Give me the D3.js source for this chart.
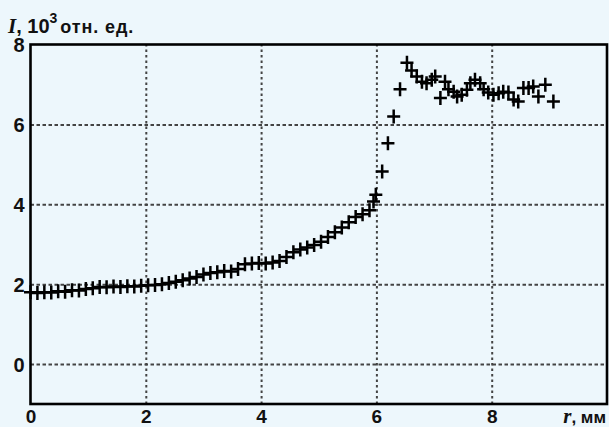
<!DOCTYPE html>
<html>
<head>
<meta charset="utf-8">
<script src="https://cdn.jsdelivr.net/npm/d3@7"></script>
<style>
  html, body { margin: 0; padding: 0; background: #edf7fc; }
  svg { display: block; }
</style>
</head>
<body>
<svg id="chart" width="609" height="427"></svg>
<script>
// ---- data ----
const rValues = [
  0.00, 0.12, 0.24, 0.36, 0.48, 0.60, 0.72, 0.84, 0.96, 1.08,
  1.20, 1.32, 1.44, 1.56, 1.68, 1.80, 1.92, 2.04, 2.16, 2.28,
  2.40, 2.52, 2.64, 2.76, 2.88, 3.00, 3.12, 3.24, 3.36, 3.48,
  3.60, 3.72, 3.84, 3.96, 4.08, 4.20, 4.32, 4.44, 4.56, 4.68,
  4.80, 4.92, 5.04, 5.16, 5.28, 5.40, 5.52, 5.64, 5.76, 5.88,
  5.95, 5.99, 6.10, 6.20, 6.30, 6.41, 6.53, 6.61, 6.70, 6.79,
  6.87, 6.96, 7.02, 7.11, 7.19, 7.25, 7.34, 7.40, 7.48, 7.57,
  7.63, 7.71, 7.80, 7.86, 7.94, 8.03, 8.12, 8.20, 8.29, 8.38,
  8.46, 8.55, 8.64, 8.72, 8.81, 8.93, 9.07
];
const intensityValues = [
  1.80, 1.78, 1.80, 1.79, 1.82, 1.81, 1.85, 1.84, 1.88, 1.90,
  1.93, 1.92, 1.94, 1.93, 1.95, 1.94, 1.96, 1.97, 1.98, 2.00,
  2.03, 2.06, 2.10, 2.14, 2.18, 2.24, 2.28, 2.30, 2.33, 2.32,
  2.38, 2.50, 2.52, 2.53, 2.52, 2.54, 2.58, 2.68, 2.80, 2.87,
  2.92, 2.98, 3.06, 3.18, 3.30, 3.42, 3.55, 3.68, 3.75, 3.85,
  4.07, 4.24, 4.82, 5.53, 6.20, 6.88, 7.54, 7.35, 7.20, 7.07,
  7.03, 7.12, 7.20, 6.66, 7.07, 6.88, 6.82, 6.70, 6.74, 6.87,
  7.03, 7.12, 7.03, 6.88, 6.80, 6.74, 6.78, 6.82, 6.80, 6.62,
  6.57, 6.91, 6.91, 6.95, 6.70, 6.99, 6.57
];
const xTicks = [0, 2, 4, 6, 8];
const yTicks = [0, 2, 4, 6, 8];
const xGrid = [2, 4, 6, 8];
const yGrid = [0, 2, 4, 6];
const xDomain = [0, 10];
const yDomain = [-1, 8];

// ---- layout ----
const padL = 30.5, padR = 607, padT = 44.5, padB = 404;
const svg = d3.select("#chart");
svg.append("rect").attr("width", 609).attr("height", 427).attr("fill", "#edf7fc");

const x = d3.scaleLinear().domain(xDomain).range([padL, padR]);
const y = d3.scaleLinear().domain(yDomain).range([padB, padT]);

// grid
const gridColor = "#444";
svg.append("g")
  .attr("transform", `translate(0,${padB})`)
  .call(d3.axisBottom(x).tickValues(xGrid).tickSize(-(padB - padT)).tickFormat(""))
  .call(g => g.select(".domain").remove())
  .call(g => g.selectAll("line").attr("stroke", gridColor).attr("stroke-width", 2).attr("stroke-dasharray", "2.5,3"));
svg.append("g")
  .attr("transform", `translate(${padL},0)`)
  .call(d3.axisLeft(y).tickValues(yGrid).tickSize(-(padR - padL)).tickFormat(""))
  .call(g => g.select(".domain").remove())
  .call(g => g.selectAll("line").attr("stroke", gridColor).attr("stroke-width", 2).attr("stroke-dasharray", "3.5,2.5"));

// frame
svg.append("rect")
  .attr("x", padL).attr("y", padT)
  .attr("width", padR - padL).attr("height", padB - padT)
  .attr("fill", "none").attr("stroke", "#000").attr("stroke-width", 2.6);

// tick labels
const tickFont = "'Liberation Sans', Arial, sans-serif";
svg.append("g")
  .attr("transform", `translate(${padL - 6},0)`)
  .call(d3.axisLeft(y).tickValues(yTicks).tickSize(0).tickPadding(0).tickFormat(d3.format("d")))
  .call(g => g.select(".domain").remove())
  .call(g => g.selectAll("text")
    .attr("font-family", tickFont).attr("font-size", 20).attr("font-weight", "bold")
    .attr("fill", "#111").attr("dy", "0.36em"));
svg.append("g")
  .attr("transform", `translate(0,${padB + 19})`)
  .call(d3.axisBottom(x).tickValues(xTicks).tickSize(0).tickPadding(0).tickFormat(d3.format("d")))
  .call(g => g.select(".domain").remove())
  .call(g => g.selectAll("text")
    .attr("font-family", tickFont).attr("font-size", 19).attr("font-weight", "bold")
    .attr("fill", "#111").attr("dy", "0"));

// axis titles
const yTitle = svg.append("text").attr("x", 8).attr("y", 33).attr("fill", "#111");
yTitle.append("tspan").attr("font-family", "'Liberation Serif', 'DejaVu Serif', serif")
  .attr("font-style", "italic").attr("font-weight", "bold").attr("font-size", 21).text("I");
yTitle.append("tspan").attr("font-family", tickFont).attr("font-weight", "bold").attr("font-size", 20).text(", 10");
yTitle.append("tspan").attr("font-family", tickFont).attr("font-weight", "bold").attr("font-size", 14)
  .attr("dy", -10).text("3");
yTitle.append("tspan").attr("font-family", tickFont).attr("font-weight", "bold").attr("font-size", 18)
  .attr("dy", 10).attr("dx", 3).attr("letter-spacing", 0.9).text("отн. ед.");

const xTitle = svg.append("text").attr("x", 606).attr("y", 423).attr("text-anchor", "end").attr("fill", "#111");
xTitle.append("tspan").attr("font-family", "'Liberation Serif', 'DejaVu Serif', serif")
  .attr("font-style", "italic").attr("font-weight", "bold").attr("font-size", 21).text("r");
xTitle.append("tspan").attr("font-family", tickFont).attr("font-weight", "bold").attr("font-size", 17).text(", мм");

// markers (+)
const data = rValues.map((r, i) => ({ r, v: intensityValues[i] }));
const armX = 6.5, armY = 7;
const marks = svg.append("g").attr("stroke", "#000").attr("stroke-width", 2.5).attr("fill", "none");
marks.selectAll("path").data(data).enter().append("path")
  .attr("d", d => {
    const cx = x(d.r), cy = y(d.v);
    return `M${cx - armX},${cy}H${cx + armX}M${cx},${cy - armY}V${cy + armY}`;
  });
</script>
</body>
</html>
